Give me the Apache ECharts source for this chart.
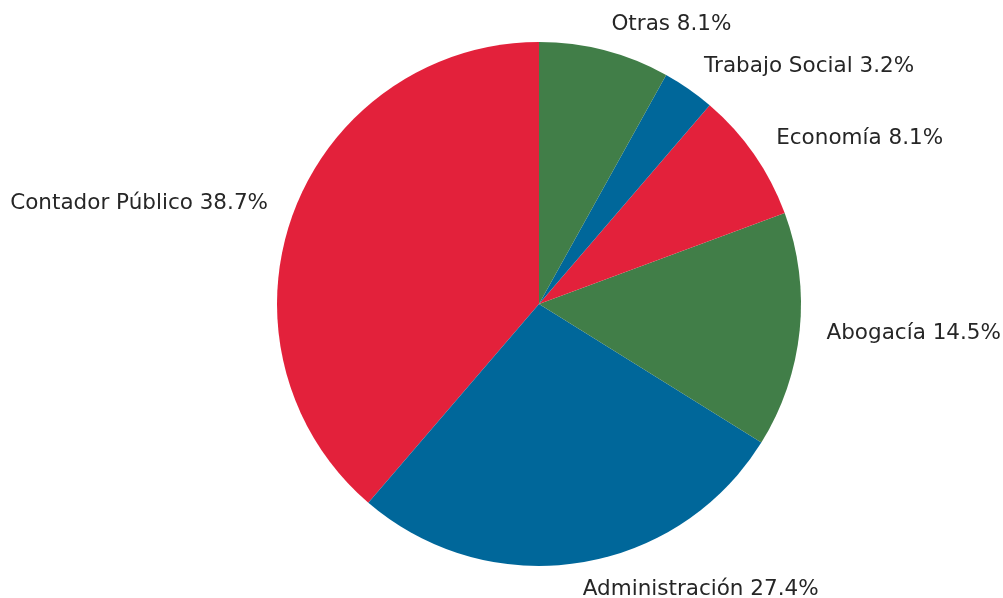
<!DOCTYPE html>
<html>
<head>
<meta charset="utf-8">
<script src="https://cdn.jsdelivr.net/npm/echarts@6/dist/echarts.min.js"></script>
<style>
  html, body { margin: 0; padding: 0; background: #fff; }
</style>
</head>
<body>
<div id="main" style="width: 1003px; height: 598px"></div>
<script>
// carreras, en orden antihorario desde arriba
const categories = ['Contador Público', 'Administración', 'Abogacía', 'Economía', 'Trabajo Social', 'Otras']
const counts = [24, 17, 9, 5, 2, 5]
const colors = ['#E3213B', '#00679A', '#417E48', '#E3213B', '#00679A', '#417E48']

const chart = echarts.init(document.getElementById('main'))

const option = {
  animation: false,
  series: [
    {
      type: 'pie',
      center: [539, 304],
      radius: [0, 262],
      startAngle: 90,
      clockwise: false,
      avoidLabelOverlap: false,
      data: categories.map(function (name, i) {
        return { name: name, value: counts[i], itemStyle: { color: colors[i] } }
      }),
      itemStyle: { borderWidth: 0 },
      label: {
        show: true,
        position: 'outside',
        distanceToLabelLine: 0,
        color: '#262626',
        fontFamily: 'DejaVu Sans',
        fontSize: 21.5,
        formatter: function (p) {
          return p.name + ' ' + p.percent.toFixed(1) + '%'
        },
      },
      labelLine: { show: false, length: 27, length2: 0 },
      emphasis: { disabled: true },
    },
  ],
}
chart.setOption(option)
</script>
</body>
</html>
